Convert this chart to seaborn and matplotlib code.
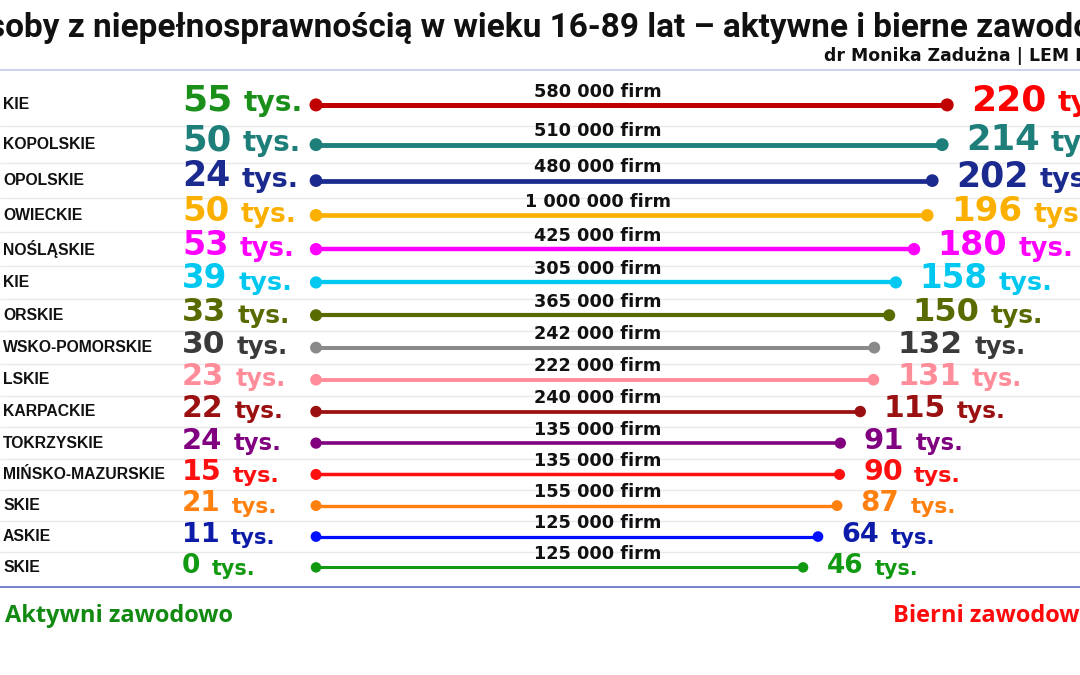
import numpy as np
import pandas as pd
import matplotlib
matplotlib.use('Agg')
import matplotlib.pyplot as plt
import seaborn as sns

# dane z wykresu (województwa uciete z lewej jak w oryginale)
regiony = ['KIE', 'KOPOLSKIE', 'OPOLSKIE', 'OWIECKIE', 'NOŚLĄSKIE', 'KIE', 'ORSKIE',
           'WSKO-POMORSKIE', 'LSKIE', 'KARPACKIE', 'TOKRZYSKIE', 'MIŃSKO-MAZURSKIE',
           'SKIE', 'ASKIE', 'SKIE']
aktywni = [55, 50, 24, 50, 53, 39, 33, 30, 23, 22, 24, 15, 21, 11, 0]
bierni = [220, 214, 202, 196, 180, 158, 150, 132, 131, 115, 91, 90, 87, 64, 46]
firmy = [580000, 510000, 480000, 1000000, 425000, 305000, 365000, 242000,
         222000, 240000, 135000, 135000, 155000, 125000, 125000]

kolory_linii = ['#c00000', '#1e7f7a', '#1b2a8f', '#fbb000', '#ff00ff', '#00c8f0', '#586b00',
                '#8a8a8a', '#ff8c99', '#9b1111', '#800080', '#ff1010', '#ff7f0f', '#0010ff', '#129912']
kolory_lewe = ['#1a8f1a'] + kolory_linii[1:7] + ['#3a3a3a'] + kolory_linii[8:13] + ['#0c1ca8', '#129912']
kolory_prawe = ['#ff0000'] + kolory_linii[1:7] + ['#3a3a3a'] + kolory_linii[8:13] + ['#0c1ca8', '#129912']

tytul = 'Osoby z niepełnosprawnością w wieku 16-89 lat – aktywne i bierne zawodowo'
autor = 'dr Monika Zadużna | LEM P'

sns.set_theme(style='white')
plt.rcParams['font.family'] = ['DejaVu Sans']

W, H = 1080, 675
fig = plt.figure(figsize=(10.8, 6.75), dpi=100)
ax = fig.add_axes([0, (H - 587) / H, 1, (587 - 70) / H])

n = len(regiony)
wiersze = np.arange(n)
t = wiersze / (n - 1)
grubosc = 3.6 - 1.4 * t
kropka = 88 - 31 * t
rozmiar = 26 - 7 * t

# os x w tys. osob; linie startuja z jednej kolumny
px_zero, px_na_tys = 765, 0.828
start = (316 - px_zero) / px_na_tys

df = pd.DataFrame({'klucz': [str(i) for i in wiersze], 'wiersz': wiersze,
                   'bierni': bierni, 'start': start})
paleta = dict(zip(df['klucz'], kolory_linii))

ax.hlines(df['wiersz'], df['start'], df['bierni'], colors=kolory_linii, linewidths=grubosc, zorder=2)
sns.scatterplot(data=df, x='start', y='wiersz', hue='klucz', palette=paleta, s=kropka,
                linewidth=0, legend=False, ax=ax, zorder=3)
sns.scatterplot(data=df, x='bierni', y='wiersz', hue='klucz', palette=paleta, s=kropka,
                linewidth=0, legend=False, ax=ax, zorder=3)

ax.set_yscale('function', functions=(lambda y: np.sign(y) * np.abs(y) ** 0.93,
                                     lambda y: np.sign(y) * np.abs(y) ** (1 / 0.93)))
ax.set_ylim(14.64, -0.87)
ax.set_xlim((0 - px_zero) / px_na_tys, (W - px_zero) / px_na_tys)
ax.set_xticks([])
ax.set_yticks([])
ax.set_xlabel('')
ax.set_ylabel('')
for s in ['left', 'right']:
    ax.spines[s].set_visible(False)
ax.spines['top'].set_color('#c5cae9')
ax.spines['bottom'].set_color('#5c6bc0')
ax.spines['top'].set_linewidth(1.2)
ax.spines['bottom'].set_linewidth(1.2)

# cienkie linie miedzy wierszami
ax.hlines(wiersze[:-1] + 0.5, 0, 1, transform=ax.get_yaxis_transform(), colors='#e9e9e9',
          linewidth=1, zorder=1)

for i in wiersze:
    ax.text(3 / W, i, regiony[i], transform=ax.get_yaxis_transform(), ha='left', va='center',
            fontsize=11.3, fontweight='bold', family='Liberation Sans', color='#111111')
    ax.annotate(f'{firmy[i]:,}'.replace(',', ' ') + ' firm', xy=(598 / W, i),
                xycoords=('axes fraction', 'data'), xytext=(0, 6), textcoords='offset points',
                ha='center', va='baseline', fontsize=12.7, fontweight='bold',
                family='DejaVu Sans', color='#111111')
    lewy = ax.annotate(str(aktywni[i]), xy=(182 / W, i), xycoords=('axes fraction', 'data'),
                       xytext=(0, -4), textcoords='offset points', ha='left', va='baseline',
                       fontsize=rozmiar[i], fontweight='bold', family='DejaVu Sans',
                       color=kolory_lewe[i])
    ax.annotate('tys.', xy=(1, 0), xycoords=lewy, xytext=(8, 0), textcoords='offset points',
                ha='left', va='bottom', fontsize=rozmiar[i] * 0.78, fontweight='bold',
                family='DejaVu Sans', color=kolory_lewe[i])
    prawy = ax.annotate(str(bierni[i]), xy=(bierni[i], i), xytext=(17, -4),
                        textcoords='offset points', ha='left', va='baseline',
                        fontsize=rozmiar[i], fontweight='bold', family='DejaVu Sans',
                        color=kolory_prawe[i])
    ax.annotate('tys.', xy=(1, 0), xycoords=prawy, xytext=(8, 0), textcoords='offset points',
                ha='left', va='bottom', fontsize=rozmiar[i] * 0.78, fontweight='bold',
                family='DejaVu Sans', color=kolory_prawe[i])

# tytul wychodzi poza kadr z obu stron, jak w oryginale
renderer = fig.canvas.get_renderer()
styl_tytulu = dict(fontweight='bold', family='Roboto')


def szerokosc(tekst, rozm):
    p = fig.text(0, 0, tekst, fontsize=rozm, **styl_tytulu)
    w = p.get_window_extent(renderer).width
    p.remove()
    return w


rozm_tyt = 25 * 1088 / szerokosc(tytul[1:-3], 25)
przes = szerokosc('Osoby', rozm_tyt) - szerokosc('soby', rozm_tyt)
fig.text((1 - przes - 13) / W, (H - 37) / H, tytul, fontsize=rozm_tyt, color='#111111',
         ha='left', va='baseline', **styl_tytulu)
fig.text(824 / W, (H - 61) / H, autor, fontsize=12.4, fontweight='bold', family='DejaVu Sans',
         color='#111111', ha='left', va='baseline')
fig.text(5 / W, (H - 622) / H, 'Aktywni zawodowo', fontsize=17, fontweight='bold',
         family='Open Sans', color='#128a12', ha='left', va='baseline')
fig.text(893 / W, (H - 622) / H, 'Bierni zawodowo', fontsize=17, fontweight='bold',
         family='Open Sans', color='#ff0a0a', ha='left', va='baseline')

fig.savefig('out.png', dpi=100)
